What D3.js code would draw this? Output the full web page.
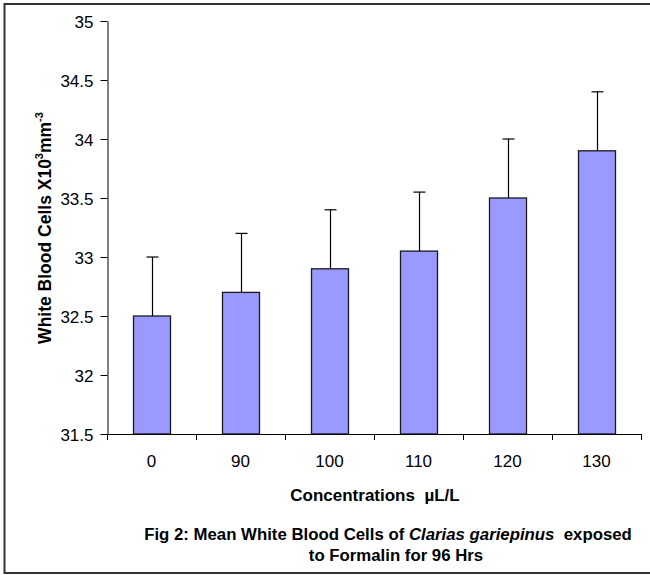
<!DOCTYPE html>
<html>
<head>
<meta charset="utf-8">
<script src="https://cdn.jsdelivr.net/npm/d3@7"></script>
<style>
  body { margin: 0; background: #fff; }
  svg { display: block; font-family: Arial, "Liberation Sans", sans-serif; }
</style>
</head>
<body>
<svg id="chart" width="650" height="575"></svg>
<script>
// Mean WBC count per formalin concentration, with upper error (SD)
const concentrations = ["0", "90", "100", "110", "120", "130"];
const meanWBC = [32.5, 32.7, 32.9, 33.05, 33.5, 33.9];
const errorWBC = [0.5, 0.5, 0.5, 0.5, 0.5, 0.5];
const yTicks = [31.5, 32, 32.5, 33, 33.5, 34, 34.5, 35];

const FONT = "Arial, 'Liberation Sans', sans-serif";
const svg = d3.select("#chart");

// Outer frame
svg.append("rect")
  .attr("x", 4.5).attr("y", 4)
  .attr("width", 660).attr("height", 569)
  .attr("fill", "none").attr("stroke", "#333").attr("stroke-width", 2);

const plot = { left: 107, right: 641, top: 21, bottom: 434 };

const x = d3.scaleBand()
  .domain(concentrations)
  .range([plot.left, plot.right]);

const y = d3.scaleLinear()
  .domain([31.5, 35])
  .range([plot.bottom, plot.top]);

const barW = 37;
const cx = d => Math.round(x(d) + x.bandwidth() / 2);

// Bars
svg.append("g").selectAll("rect")
  .data(concentrations)
  .join("rect")
  .attr("x", d => cx(d) - Math.round(barW / 2) + 0.5)
  .attr("y", (d, i) => y(meanWBC[i]))
  .attr("width", barW)
  .attr("height", (d, i) => y(31.5) - y(meanWBC[i]))
  .attr("fill", "#9999FF")
  .attr("stroke", "#1a1a1a")
  .attr("stroke-width", 1.3);

// Error bars (upper only)
const err = svg.append("g").attr("stroke", "#000").attr("stroke-width", 1.2);
concentrations.forEach((c, i) => {
  const px = cx(c) + 0.5;
  const yTop = y(meanWBC[i] + errorWBC[i]);
  err.append("line")
    .attr("x1", px).attr("x2", px)
    .attr("y1", y(meanWBC[i])).attr("y2", yTop);
  err.append("line")
    .attr("x1", px - 6).attr("x2", px + 6)
    .attr("y1", yTop).attr("y2", yTop);
});

// Y axis
const yAxis = svg.append("g")
  .attr("transform", `translate(${plot.left + 0.5},0)`)
  .call(d3.axisLeft(y).tickValues(yTicks).tickSize(7).tickSizeOuter(0)
    .tickFormat(d => d3.format("")(d)));
yAxis.attr("font-family", FONT).attr("font-size", 17);
yAxis.select(".domain").attr("stroke", "#000");
yAxis.selectAll(".tick line").attr("stroke", "#000");
yAxis.selectAll(".tick text")
  .attr("x", -14).attr("dy", "0.36em")
  .attr("fill", "#000");

// X axis line
svg.append("line")
  .attr("x1", plot.left).attr("x2", plot.right + 1)
  .attr("y1", plot.bottom + 0.5).attr("y2", plot.bottom + 0.5)
  .attr("stroke", "#000");

// X tick marks at category boundaries
const boundaries = concentrations.map(c => x(c)).concat([plot.right]);
svg.append("g").selectAll("line")
  .data(boundaries)
  .join("line")
  .attr("x1", d => Math.round(d) + 0.5).attr("x2", d => Math.round(d) + 0.5)
  .attr("y1", plot.bottom).attr("y2", plot.bottom + 6)
  .attr("stroke", "#000");

// X category labels
svg.append("g").selectAll("text")
  .data(concentrations)
  .join("text")
  .attr("x", d => x(d) + x.bandwidth() / 2)
  .attr("y", 467)
  .attr("text-anchor", "middle")
  .attr("font-size", 17)
  .text(d => d);

// Axis titles
svg.append("text")
  .attr("x", 375).attr("y", 501)
  .attr("text-anchor", "middle")
  .attr("font-size", 17).attr("font-weight", "bold")
  .style("white-space", "pre")
  .text("Concentrations  µL/L");

const yTitle = svg.append("text")
  .attr("transform", "translate(51,228) rotate(-90)")
  .attr("text-anchor", "middle")
  .attr("font-size", 17.5).attr("font-weight", "bold");
yTitle.append("tspan").text("White Blood Cells X10");
yTitle.append("tspan").attr("dy", -8).attr("font-size", 11).text("3");
yTitle.append("tspan").attr("dy", 8).text("mm");
yTitle.append("tspan").attr("dy", -8).attr("font-size", 11).text("-3");

// Figure caption
const cap1 = svg.append("text")
  .attr("x", 388).attr("y", 540)
  .attr("text-anchor", "middle")
  .attr("font-size", 16.8).attr("font-weight", "bold")
  .style("white-space", "pre");
cap1.append("tspan").text("Fig 2: Mean White Blood Cells of ");
cap1.append("tspan").attr("font-style", "italic").text("Clarias gariepinus");
cap1.append("tspan").text("  exposed");

svg.append("text")
  .attr("x", 396).attr("y", 561)
  .attr("text-anchor", "middle")
  .attr("font-size", 16.8).attr("font-weight", "bold")
  .text("to Formalin for 96 Hrs");
</script>
</body>
</html>
